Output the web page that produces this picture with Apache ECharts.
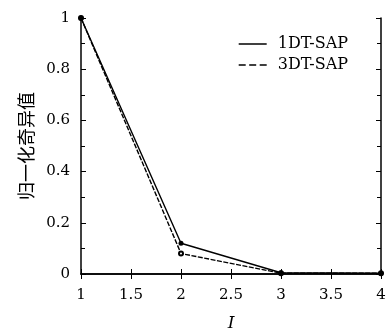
<!DOCTYPE html>
<html>
<head>
<meta charset="utf-8">
<script src="https://cdn.jsdelivr.net/npm/echarts@6/dist/echarts.min.js"></script>
<style>
  html, body { margin: 0; padding: 0; background: #fff; }
  #chart { width: 389px; height: 332px; }
</style>
</head>
<body>
<div id="chart"></div>
<script>
const xValues = [1, 2, 3, 4];
const series1DT = [1, 0.12, 0.005, 0.003];
const series3DT = [1, 0.08, 0.003, 0.003];
const seriesNames = ['1DT-SAP', '3DT-SAP'];

const serif = '"DejaVu Serif", "Liberation Serif", serif';
const chart = echarts.init(document.getElementById('chart'));

const tickStyle = { show: true, inside: true, length: 5, lineStyle: { color: '#000', width: 1 } };
const lineAxis = { lineStyle: { color: '#000', width: 1.5 } };
const minor = { show: true, splitNumber: 2, length: 4, lineStyle: { color: '#000' } };

const option = {
  animation: false,
  grid: { left: 81, right: 8, top: 18, bottom: 58, outerBoundsMode: 'none' },
  legend: {
    right: 36,
    top: 31,
    orient: 'vertical',
    itemWidth: 28,
    itemHeight: 14,
    itemGap: 5,
    textStyle: { fontFamily: serif, fontSize: 16, lineHeight: 14, color: '#000', padding: [0, 0, 0, 6] },
    data: [
      { name: seriesNames[0], icon: 'path://M0,0 L28,0 L28,1.5 L0,1.5 Z' },
      { name: seriesNames[1], icon: 'path://M0,0 L7,0 L7,1.5 L0,1.5 Z M10.5,0 L17.5,0 L17.5,1.5 L10.5,1.5 Z M21,0 L28,0 L28,1.5 L21,1.5 Z' }
    ]
  },
  xAxis: [
    {
      type: 'value', min: 1, max: 4, interval: 0.5,
      name: 'I', nameLocation: 'middle', nameGap: 41,
      nameTextStyle: { fontFamily: serif, fontStyle: 'italic', fontSize: 17, color: '#000' },
      axisLine: lineAxis, axisTick: tickStyle, splitLine: { show: false },
      axisLabel: { fontFamily: serif, fontSize: 15, color: '#000', margin: 14 }
    },
    {
      type: 'value', min: 1, max: 4, interval: 0.5, position: 'top',
      axisLine: lineAxis, axisTick: tickStyle, splitLine: { show: false },
      axisLabel: { show: false }
    }
  ],
  yAxis: [
    {
      type: 'value', min: 0, max: 1, interval: 0.2,
      name: '归一化奇异值', nameLocation: 'middle', nameGap: 42,
      nameTextStyle: { fontFamily: '"Noto Sans CJK SC"', fontSize: 18, color: '#000' },
      axisLine: lineAxis, axisTick: tickStyle, splitLine: { show: false },
      minorTick: minor,
      axisLabel: { fontFamily: serif, fontSize: 15, color: '#000', margin: 11 }
    },
    {
      type: 'value', min: 0, max: 1, interval: 0.2, position: 'right',
      axisLine: lineAxis, axisTick: tickStyle, splitLine: { show: false },
      minorTick: minor,
      axisLabel: { show: false }
    }
  ],
  series: [
    {
      name: seriesNames[0], type: 'line',
      data: xValues.map((x, i) => [x, series1DT[i]]),
      symbol: 'circle', symbolSize: 5,
      itemStyle: { color: '#000' },
      lineStyle: { color: '#000', width: 1.4, type: 'solid' },
      z: 3
    },
    {
      name: seriesNames[1], type: 'line',
      data: xValues.map((x, i) => [x, series3DT[i]]),
      symbol: 'emptyCircle', symbolSize: 4,
      itemStyle: { color: '#000', borderColor: '#000' },
      lineStyle: { color: '#000', width: 1.4, type: [5, 1.5] },
      z: 2
    }
  ]
};

chart.setOption(option);
</script>
</body>
</html>
